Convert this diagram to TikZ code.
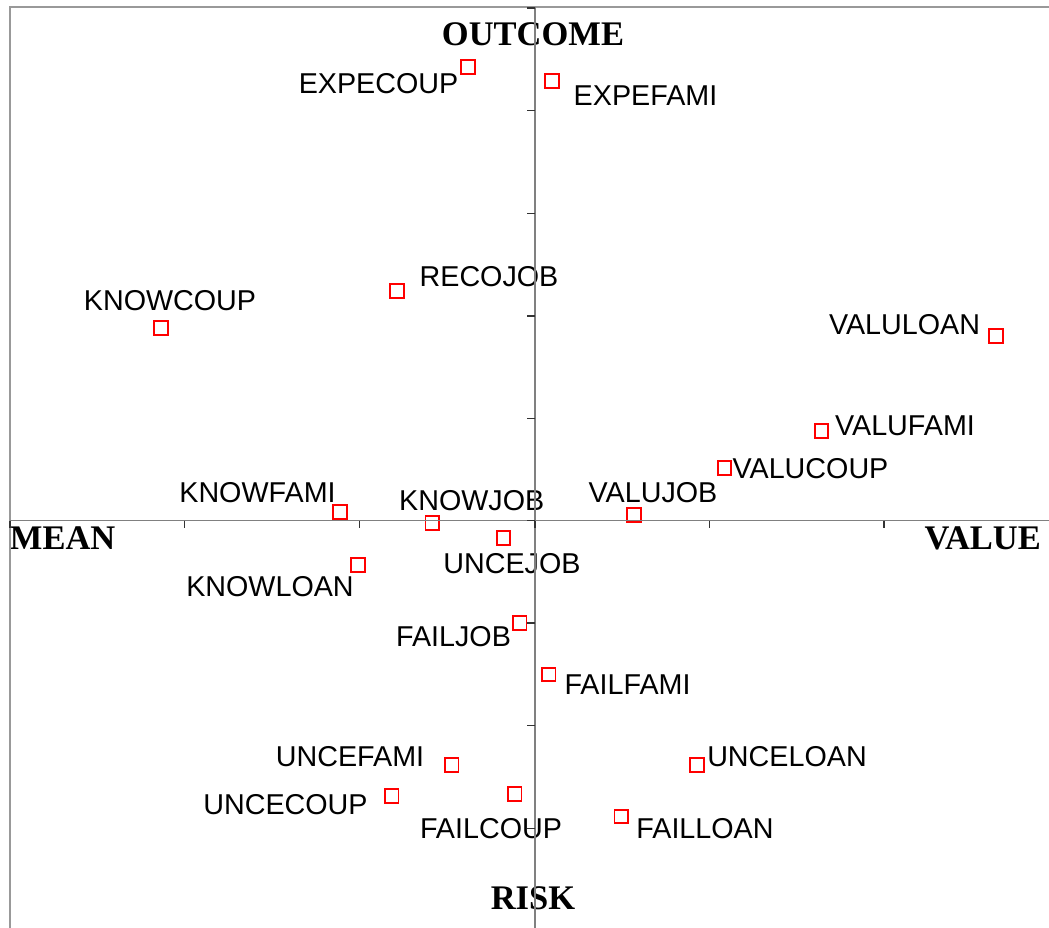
\documentclass[tikz,border=0pt]{standalone}
\usepackage{fontspec}
\setmainfont{Liberation Sans}
\newfontfamily\axisfont{Liberation Serif}
\usetikzlibrary{positioning}

\begin{document}
\begin{tikzpicture}[x=1pt,y=-1pt,
    catpt/.style={draw=red,line width=1.7pt,minimum size=13.5pt,inner sep=0pt},
    catlab/.style={font=\fontsize{28.7}{30}\selectfont,inner sep=0pt},
    axlab/.style={font=\axisfont\bfseries\fontsize{34.5}{36}\selectfont,inner sep=0pt},
    axline/.style={draw=black!50,line width=1.6pt},
    tick/.style={draw=black!80,line width=1.3pt}]
            \useasboundingbox (0,0) rectangle (1049,928);
            % categories: name / square / label
            \foreach \nm/\px/\py/\lx/\ly in {
                EXPECOUP/468/67/378.5/84, EXPEFAMI/552/81/645.5/96,
                RECOJOB/397/291/489/277, KNOWCOUP/161/328/170/301,
                VALULOAN/996/336/904.5/325, VALUFAMI/821.5/431/905/426,
                VALUCOUP/724.5/468/810.5/468.5, VALUJOB/634/515/653/493,
                KNOWFAMI/340/512/257.5/493, KNOWJOB/432.3/523/471.7/500.7,
                UNCEJOB/503.5/538/512/564, KNOWLOAN/358/565/270/587,
                FAILJOB/519.7/623/453.5/637, FAILFAMI/548.7/674.5/627.5/685,
                UNCEFAMI/451.8/765/350/756.3, UNCELOAN/697/765/787/757,
                UNCECOUP/391.8/796/285.5/804.5, FAILCOUP/514.7/794/491/829,
                FAILLOAN/621.3/816.5/705/829} {
                \node[catpt] (\nm) at (\px,\py) {};
                \node[catlab] (\nm-lab) at (\lx,\ly) {\nm};
            }
            \node[axlab] (outcome) at (533,34.7) {OUTCOME};
            \node[axlab] (mean) at (62.7,538.3) {MEAN};
            \node[axlab] (value) at (982.7,538.3) {VALUE};
            \node[axlab] (risk) at (533,898.5) {RISK};
            % frame and axes
            \coordinate (fl) at (10,928);
            \coordinate (ftl) at (10,7.5);
            \coordinate (ftr) at (1049,7.5);
            \draw[draw=black!40,line width=2pt] (fl) -- (ftl) -- (ftr);
            \coordinate (xl) at (10,520.5);
            \coordinate (xr) at (1049,520.5);
            \coordinate (yt) at (535,7.5);
            \coordinate (yb) at (535,928);
            \draw[axline] (xl) -- (xr);
            \draw[axline] (yt) -- (yb);
            \foreach \t in {10,184.5,359.5,535,709.5,884}
                \draw[tick] (\t,520.5) -- (\t,528);
            \foreach \t in {8,110.7,213.4,316,418.7,520.5,623.1,725.8,828.5}
                \draw[tick] (535,\t) -- (527,\t);
        \end{tikzpicture}
\end{document}
